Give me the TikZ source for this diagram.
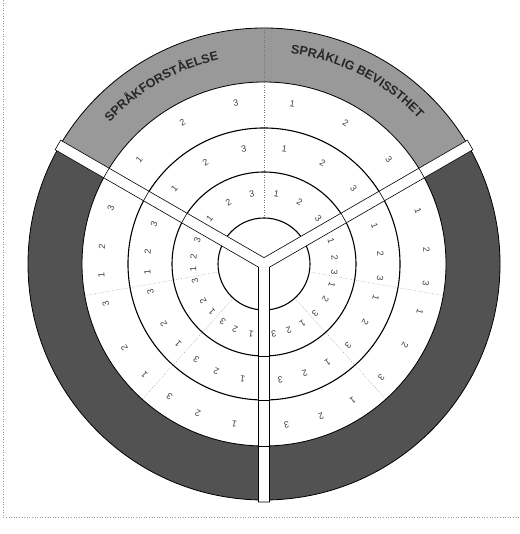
\documentclass[tikz,border=0pt]{standalone}
\usepackage{fontspec}
\setmainfont{Liberation Sans}
\usetikzlibrary{decorations.text,calc}
\tikzset{
  lightband/.style={fill=black!40},
  darkband/.style={fill=black!68},
  ringline/.style={line width=1.1pt,draw=black},
  dotline/.style={draw=black!55,dotted,line width=0.5pt},
  num/.style={font=\fontsize{9}{9}\selectfont,text=black!75,inner sep=0pt},
  barbox/.style={fill=white,draw=black,line width=0.6pt},
  frameline/.style={draw=black!40,dotted,line width=0.6pt}
}
\begin{document}
\begin{tikzpicture}[x=1pt,y=1pt]
\useasboundingbox (0,0) rectangle (519,534);
\fill[white] (0,0) rectangle (519,534);
\draw[frameline] (3,534) -- (3,17) -- (519,17);
\begin{scope}[shift={(264,270)}]
\def\ra{46}\def\rb{92}\def\rc{136}\def\rd{182}\def\re{236}
% outer bands
\fill[lightband] (150:\re) arc[start angle=150,end angle=30,radius=\re] -- (30:\rd) arc[start angle=30,end angle=150,radius=\rd] -- cycle;
\fill[darkband] (270:\re) arc[start angle=270,end angle=150,radius=\re] -- (150:\rd) arc[start angle=150,end angle=270,radius=\rd] -- cycle;
\fill[darkband] (30:\re) arc[start angle=30,end angle=-90,radius=\re] -- (-90:\rd) arc[start angle=-90,end angle=30,radius=\rd] -- cycle;
\draw[line width=0.8pt] (0,0) circle (\re);
\draw[line width=0.8pt] (0,0) circle (\rd);
% sector dividers
\foreach \a in {190,228,-10,-48} \draw[dotline] (\a:\ra) -- (\a:\rd);
\draw[dotline] (90:\ra) -- (90:\re);
% ring circles
\draw[ringline] (0,0) circle (\ra);
\draw[ringline] (0,0) circle (\rb);
\draw[ringline] (0,0) circle (\rc);
% Y-shaped bars
\def\w{5.5}\def\L{238}\def\d{6.35}
\filldraw[barbox] ($(30:\L)+(-60:\w)$) -- ($(30:\L)+(120:\w)$) -- (90:\d)
  -- ($(150:\L)+(60:\w)$) -- ($(150:\L)+(240:\w)$) -- (210:\d)
  -- ($(270:\L)+(180:\w)$) -- ($(270:\L)+(0:\w)$) -- (330:\d) -- cycle;
\foreach \a in {30,150,270}
  \foreach \r in {\rb,\rc,\rd}
    \draw[line width=0.6pt] ($(\a:\r)+(\a+90:\w)$) -- ($(\a:\r)+(\a-90:\w)$);
% band titles
\path[decorate,decoration={text along path,text align=center,
  text={|\bfseries\fontsize{12.5}{12.5}\selectfont\color{black!85}|SPRÅKFORSTÅELSE}}]
  (150:209) arc[start angle=150,end angle=90,radius=209];
\path[decorate,decoration={text along path,text align=center,
  text={|\bfseries\fontsize{12.5}{12.5}\selectfont\color{black!85}|SPRÅKLIG BEVISSTHET}}]
  (94:212) arc[start angle=94,end angle=32,radius=212];
% numbers
\foreach \r in {163,117,71}{
  \foreach \ang/\lab in {140/1,120/2,100/3,80/1,60/2,40/3,
     19/1,5/2,-7/3,-17/1,-30/2,-44/3,-57/1,-69.5/2,-82/3,
     259.5/1,246/2,234.6/3,222.8/1,211/2,194/3,184/1,174/2,160/3}
    \node[num,rotate={\ang-90}] at (\ang:\r) {\lab};
}
\end{scope}
\end{tikzpicture}
\end{document}
